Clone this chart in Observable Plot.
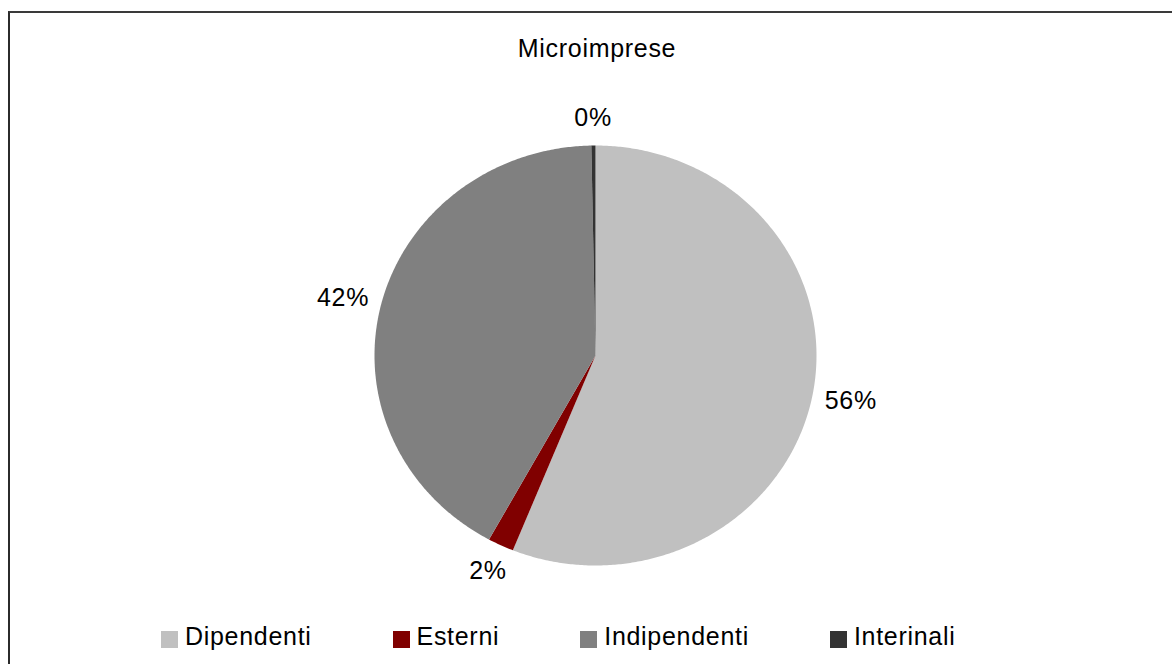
<!DOCTYPE html>
<html>
<head>
<meta charset="utf-8">
<script src="https://cdn.jsdelivr.net/npm/d3@7"></script>
<script src="https://cdn.jsdelivr.net/npm/@observablehq/plot@0.6"></script>
<style>
  html, body { margin: 0; padding: 0; background: #fff; }
  #wrap { position: relative; width: 1172px; height: 664px; overflow: hidden; background: #fff;
          font-family: "Liberation Sans", Arial, sans-serif; }
  #frame { position: absolute; left: 8px; top: 11px; width: 2000px; height: 2000px;
           border-left: 2px solid #2b2b2b; border-top: 2px solid #3a3a3a; }
  #chart { position: absolute; left: 0; top: 0; }
  #chart svg text { letter-spacing: 0.7px; }
  #title { position: absolute; left: 0; width: 1194px; top: 34px; text-align: center;
           font-size: 25px; letter-spacing: 0.7px; color: #000; }
  #legend { position: absolute; top: 622px; left: 161px; display: flex; align-items: center;
            font-size: 25px; letter-spacing: 0.7px; color: #000; }
  .item { display: flex; align-items: center; margin-right: 81px; }
  .sw { width: 17px; height: 17px; margin-right: 7px; margin-top: 5px; }
</style>
</head>
<body>
<div id="wrap">
  <div id="frame"></div>
  <div id="chart"></div>
  <div id="title"></div>
  <div id="legend"></div>
</div>
<script>
const title = "Microimprese";
const categories = ["Dipendenti", "Esterni", "Indipendenti", "Interinali"];
const values = [56.1, 1.9, 41.7, 0.3];
const colors = ["#c0c0c0", "#800000", "#808080", "#333333"];

document.getElementById("title").textContent = title;

const total = d3.sum(values);
let acc = 0;
const slices = categories.map((c, i) => {
  const a0 = acc / total * 2 * Math.PI;
  acc += values[i];
  const a1 = acc / total * 2 * Math.PI;
  return {category: c, value: values[i], a0, a1};
});

// polygon points for each slice (unit circle in data space; scales make it elliptical)
const pts = [];
for (const s of slices) {
  pts.push({category: s.category, x: 0, y: 0});
  const n = Math.max(2, Math.ceil((s.a1 - s.a0) / (Math.PI / 360)));
  for (let k = 0; k <= n; k++) {
    const a = s.a0 + (s.a1 - s.a0) * k / n;
    pts.push({category: s.category, x: Math.sin(a), y: Math.cos(a)});
  }
  pts.push({category: s.category, x: 0, y: 0});
}

// outside-end labels
const rx = 221, ry = 210, gap = 12;
const labels = slices.map(s => {
  const m = (s.a0 + s.a1) / 2;
  const sn = Math.sin(m), cs = Math.cos(m);
  const text = Math.round(s.value / total * 100) + "%";
  const halfW = text.length * 9, halfH = 16;
  const ox = sn * (gap + halfW) / rx;
  const oy = cs * (gap + halfH) / ry;
  return {text, x: sn + ox, y: cs + oy};
});

const W = 1172, H = 664;
const chart = Plot.plot({
  width: W,
  height: H,
  marginLeft: 374,
  marginRight: W - 816,
  marginTop: 145,
  marginBottom: H - 565,
  x: {domain: [-1, 1], axis: null},
  y: {domain: [-1, 1], axis: null},
  color: {domain: categories, range: colors, legend: false},
  style: {background: "transparent", fontFamily: "Liberation Sans, Arial, sans-serif"},
  marks: [
    Plot.line(pts, {x: "x", y: "y", z: "category", fill: "category", stroke: null, curve: "linear-closed"}),
    Plot.text(labels, {x: "x", y: "y", text: "text", fontSize: 25, fill: "#000", textAnchor: "middle", lineAnchor: "middle"})
  ]
});
document.getElementById("chart").appendChild(chart);

const lg = document.getElementById("legend");
categories.forEach((c, i) => {
  const it = document.createElement("div");
  it.className = "item";
  const sw = document.createElement("div");
  sw.className = "sw";
  sw.style.background = colors[i];
  const t = document.createElement("span");
  t.textContent = c;
  it.appendChild(sw);
  it.appendChild(t);
  lg.appendChild(it);
});
</script>
</body>
</html>
